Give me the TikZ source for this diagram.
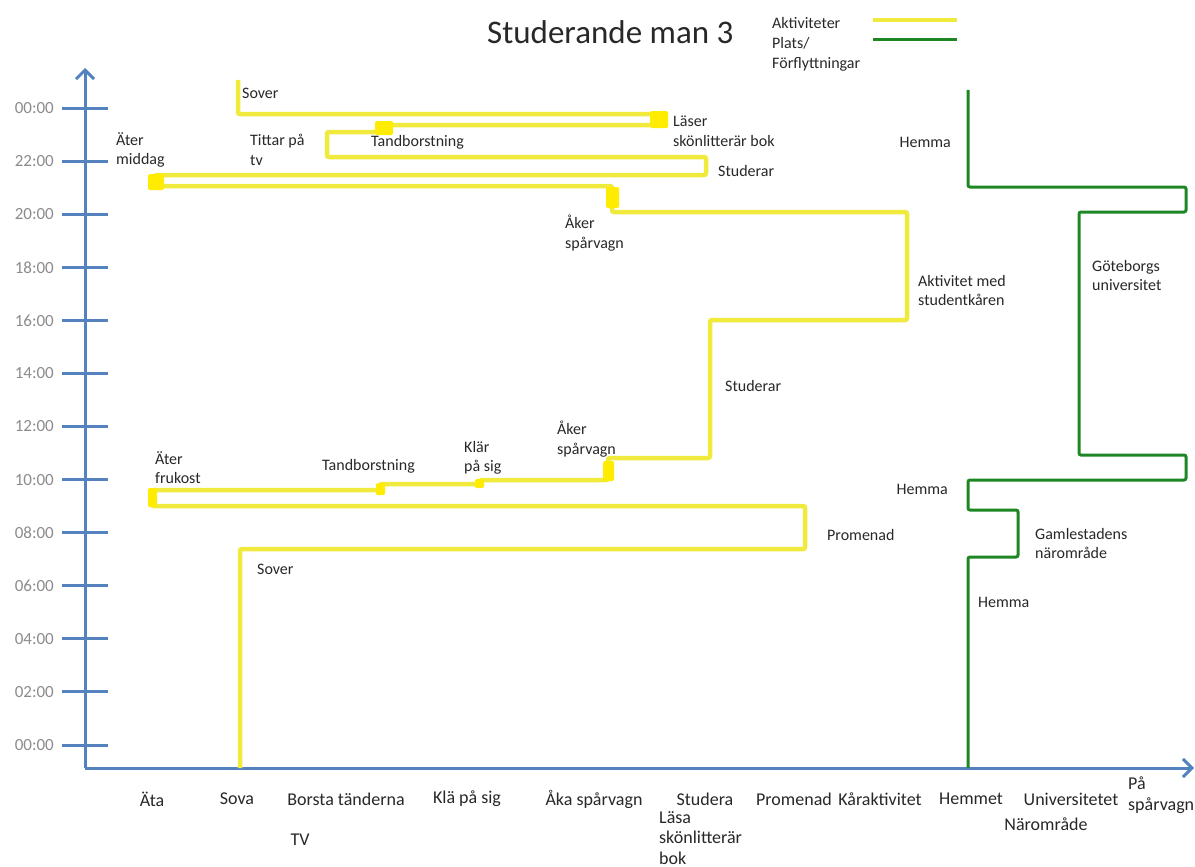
\documentclass[tikz,border=0pt]{standalone}
\usepackage{fontspec}
\setmainfont{Carlito}
\usetikzlibrary{arrows.meta}
\definecolor{ylw}{RGB}{240,234,60}
\definecolor{ylwb}{RGB}{255,236,0}
\definecolor{grn}{RGB}{30,135,35}
\definecolor{axb}{RGB}{84,130,190}
\definecolor{tickgray}{RGB}{140,140,140}
\definecolor{txt}{RGB}{40,40,40}
\begin{document}
\begin{tikzpicture}[x=1pt,y=-1pt,
  lbl/.style={font=\fontsize{16}{19.5}\selectfont, text=txt, align=left, inner sep=0pt, anchor=north west},
  lblr/.style={lbl, align=right, anchor=north east},
  catlbl/.style={font=\fontsize{18}{21}\selectfont, text=txt, inner sep=0pt, anchor=center},
  catml/.style={font=\fontsize{18}{20.5}\selectfont, text=txt, align=left, inner sep=0pt, anchor=north west},
  ticklbl/.style={font=\fontsize{17}{20}\selectfont, text=tickgray, inner sep=0pt, anchor=east},
  axisline/.style={draw=axb, line width=3pt},
  tickline/.style={draw=axb, line width=3pt},
  ypath/.style={draw=ylw, line width=4.5pt, rounded corners=2pt},
  yblock/.style={fill=ylwb, draw=none, rounded corners=1.5pt},
  gpath/.style={draw=grn, line width=3pt, rounded corners=2pt}]
\useasboundingbox[fill=white] (0,0) rectangle (1195,867);

% title and legend
\node[font=\fontsize{33}{40}\selectfont, text=txt, inner sep=0pt, anchor=west] (title) at (487,32) {Studerande man 3};
\node[lbl, font=\fontsize{16}{20}\selectfont] (legtext) at (772,17) {Aktiviteter\\Plats/\\Förflyttningar};
\coordinate (ly1) at (873,20); \coordinate (ly2) at (957,20);
\coordinate (lg1) at (873,40); \coordinate (lg2) at (957,40);
\draw[draw=ylw, line width=4.5pt] (ly1) -- (ly2);
\draw[draw=grn, line width=3pt] (lg1) -- (lg2);

% axes
\coordinate (O) at (85,768);
\coordinate (ytop) at (85,68);
\coordinate (xend) at (1194,768);
\draw[axisline, -{Straight Barb[length=9pt,width=18pt]}] (O) -- (ytop);
\draw[axisline, -{Straight Barb[length=9pt,width=18pt]}] (O) -- (xend);

% ticks
\foreach \i/\t in {0/00:00,1/02:00,2/04:00,3/06:00,4/08:00,5/10:00,6/12:00,7/14:00,8/16:00,9/18:00,10/20:00,11/22:00,12/00:00}{
  \pgfmathsetmacro{\yy}{745-53.08*\i}
  \draw[tickline] (62,\yy) -- (108,\yy);
  \node[ticklbl] (tick\i) at (54,\yy) {\t};
}

% category labels
\node[catlbl] (cAta) at (152,799) {Äta};
\node[catlbl] (cSova) at (237,799) {Sova};
\node[catlbl] (cBorsta) at (346,799) {Borsta tänderna};
\node[catlbl] (cKla) at (467,799) {Klä på sig};
\node[catlbl] (cAka) at (594,799) {Åka spårvagn};
\node[catlbl] (cStudera) at (705,799) {Studera};
\node[catlbl] (cProm) at (794,799) {Promenad};
\node[catlbl] (cKar) at (880,799) {Kåraktivitet};
\node[catlbl] (cHemmet) at (971,799) {Hemmet};
\node[catlbl] (cUni) at (1071,799) {Universitetet};
\node[catml] (cPa) at (1128,777) {På\\spårvagn};
\node[catlbl] (cTV) at (300,840) {TV};
\node[catml] (cLasa) at (659,811) {Läsa\\skönlitterär\\bok};
\node[catlbl] (cNar) at (1046,824) {Närområde};

% yellow activity path
\draw[ypath] (240,768) -- (240,549) -- (805,549) -- (805,506) -- (152,506) -- (152,490)
  -- (380,490) -- (380,484) -- (480,484) -- (480,480) -- (608,480) -- (608,458)
  -- (710,458) -- (710,320) -- (907,320) -- (907,212) -- (612,212) -- (612,186)
  -- (155,186) -- (155,175) -- (706,175) -- (706,157) -- (327,157) -- (327,132)
  -- (384,132) -- (384,125) -- (659,125) -- (659,114) -- (238,114) -- (238,80);

% yellow blocks
\fill[yblock] (148,488) rectangle (157,507);
\fill[yblock] (376,483) rectangle (385,495);
\fill[yblock] (475,479) rectangle (484,488);
\fill[yblock] (603,461) rectangle (614,481);
\fill[yblock] (606,187) rectangle (619,208);
\fill[yblock] (148,174) rectangle (164,190);
\fill[yblock] (375,121) rectangle (393,135);
\fill[yblock] (650,111) rectangle (668,128);

% green place path
\draw[gpath] (968,768) -- (968,557) -- (1018,557) -- (1018,510) -- (968,510) -- (968,480)
  -- (1186,480) -- (1186,455) -- (1079,455) -- (1079,212) -- (1186,212) -- (1186,187)
  -- (968,187) -- (968,90);

% activity labels
\node[lbl] (lSover1) at (242,88) {Sover};
\node[lbl] (lLaser) at (673,116) {Läser\\skönlitterär bok};
\node[lbl] (lTittar) at (250,134) {Tittar på\\tv};
\node[lbl] (lTand1) at (371,135) {Tandborstning};
\node[lbl] (lMiddag) at (116,132) {Äter\\middag};
\node[lbl] (lStud1) at (718,165) {Studerar};
\node[lbl] (lAker1) at (565,215) {Åker\\spårvagn};
\node[lbl] (lKar) at (918,275) {Aktivitet med\\studentkåren};
\node[lbl] (lStud2) at (725,380) {Studerar};
\node[lbl] (lAker2) at (557,421) {Åker\\spårvagn};
\node[lbl] (lKlar) at (464,441) {Klär\\på sig};
\node[lbl] (lTand2) at (322,459) {Tandborstning};
\node[lbl] (lFrukost) at (155,451) {Äter\\frukost};
\node[lbl] (lProm) at (827,529) {Promenad};
\node[lbl] (lSover2) at (257,564) {Sover};

% place labels
\node[lblr] (pHemma1) at (951,137) {Hemma};
\node[lbl] (pGU) at (1092,260) {Göteborgs\\universitet};
\node[lblr] (pHemma2) at (948,484) {Hemma};
\node[lbl] (pGaml) at (1035,528) {Gamlestadens\\närområde};
\node[lbl] (pHemma3) at (978,597) {Hemma};
\end{tikzpicture}
\end{document}
